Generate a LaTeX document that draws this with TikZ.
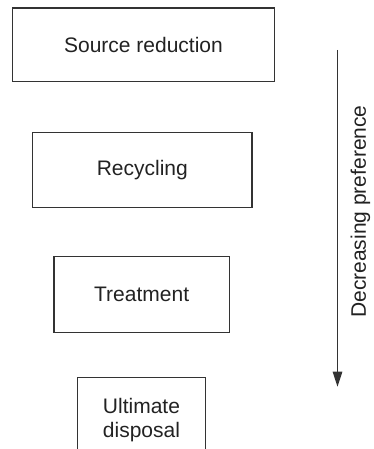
\documentclass[tikz,border=0pt]{standalone}
\usepackage{fontspec}
\setmainfont{Liberation Sans}
\usetikzlibrary{arrows.meta}
\definecolor{linegray}{HTML}{333333}
\definecolor{textgray}{HTML}{222222}
\tikzset{
  levelbox/.style={draw=linegray, line width=1.1pt, inner sep=0pt, text=textgray,
    font=\fontsize{21}{24}\selectfont, align=center},
  plaintext/.style={inner sep=0pt, text=textgray, font=\fontsize{21}{24}\selectfont, align=center},
  prefarrow/.style={draw=linegray, line width=1.2pt, -{Triangle[width=9.5pt,length=15pt]}}
}
\begin{document}
\begin{tikzpicture}[x=1pt,y=-1pt]
\useasboundingbox (0,0) rectangle (373,449);
\node[levelbox, minimum width=261.6pt, minimum height=73.5pt] (src) at (143.5,44.75) {Source reduction};
\node[levelbox, minimum width=219.3pt, minimum height=74.6pt] (rec) at (142.35,170) {Recycling};
\node[levelbox, minimum width=175.3pt, minimum height=76pt] (trt) at (141.65,294.7) {Treatment};
\node[plaintext] (ult) at (141.5,420.4) {Ultimate\\disposal};
\coordinate (ulttl) at (77.3,377.3);
\coordinate (ulttr) at (205.7,377.3);
\coordinate (ultbl) at (77.3,449);
\coordinate (ultbr) at (205.7,449);
\draw[draw=linegray, line width=1.1pt] (ultbl) -- (ulttl) -- (ulttr) -- (ultbr);
\coordinate (atop) at (337.5,50);
\coordinate (abot) at (337.5,386.7);
\draw[prefarrow] (atop) -- (abot);
\node[plaintext, rotate=90] (pref) at (360.5,211.5) {Decreasing preference};
\end{tikzpicture}
\end{document}
